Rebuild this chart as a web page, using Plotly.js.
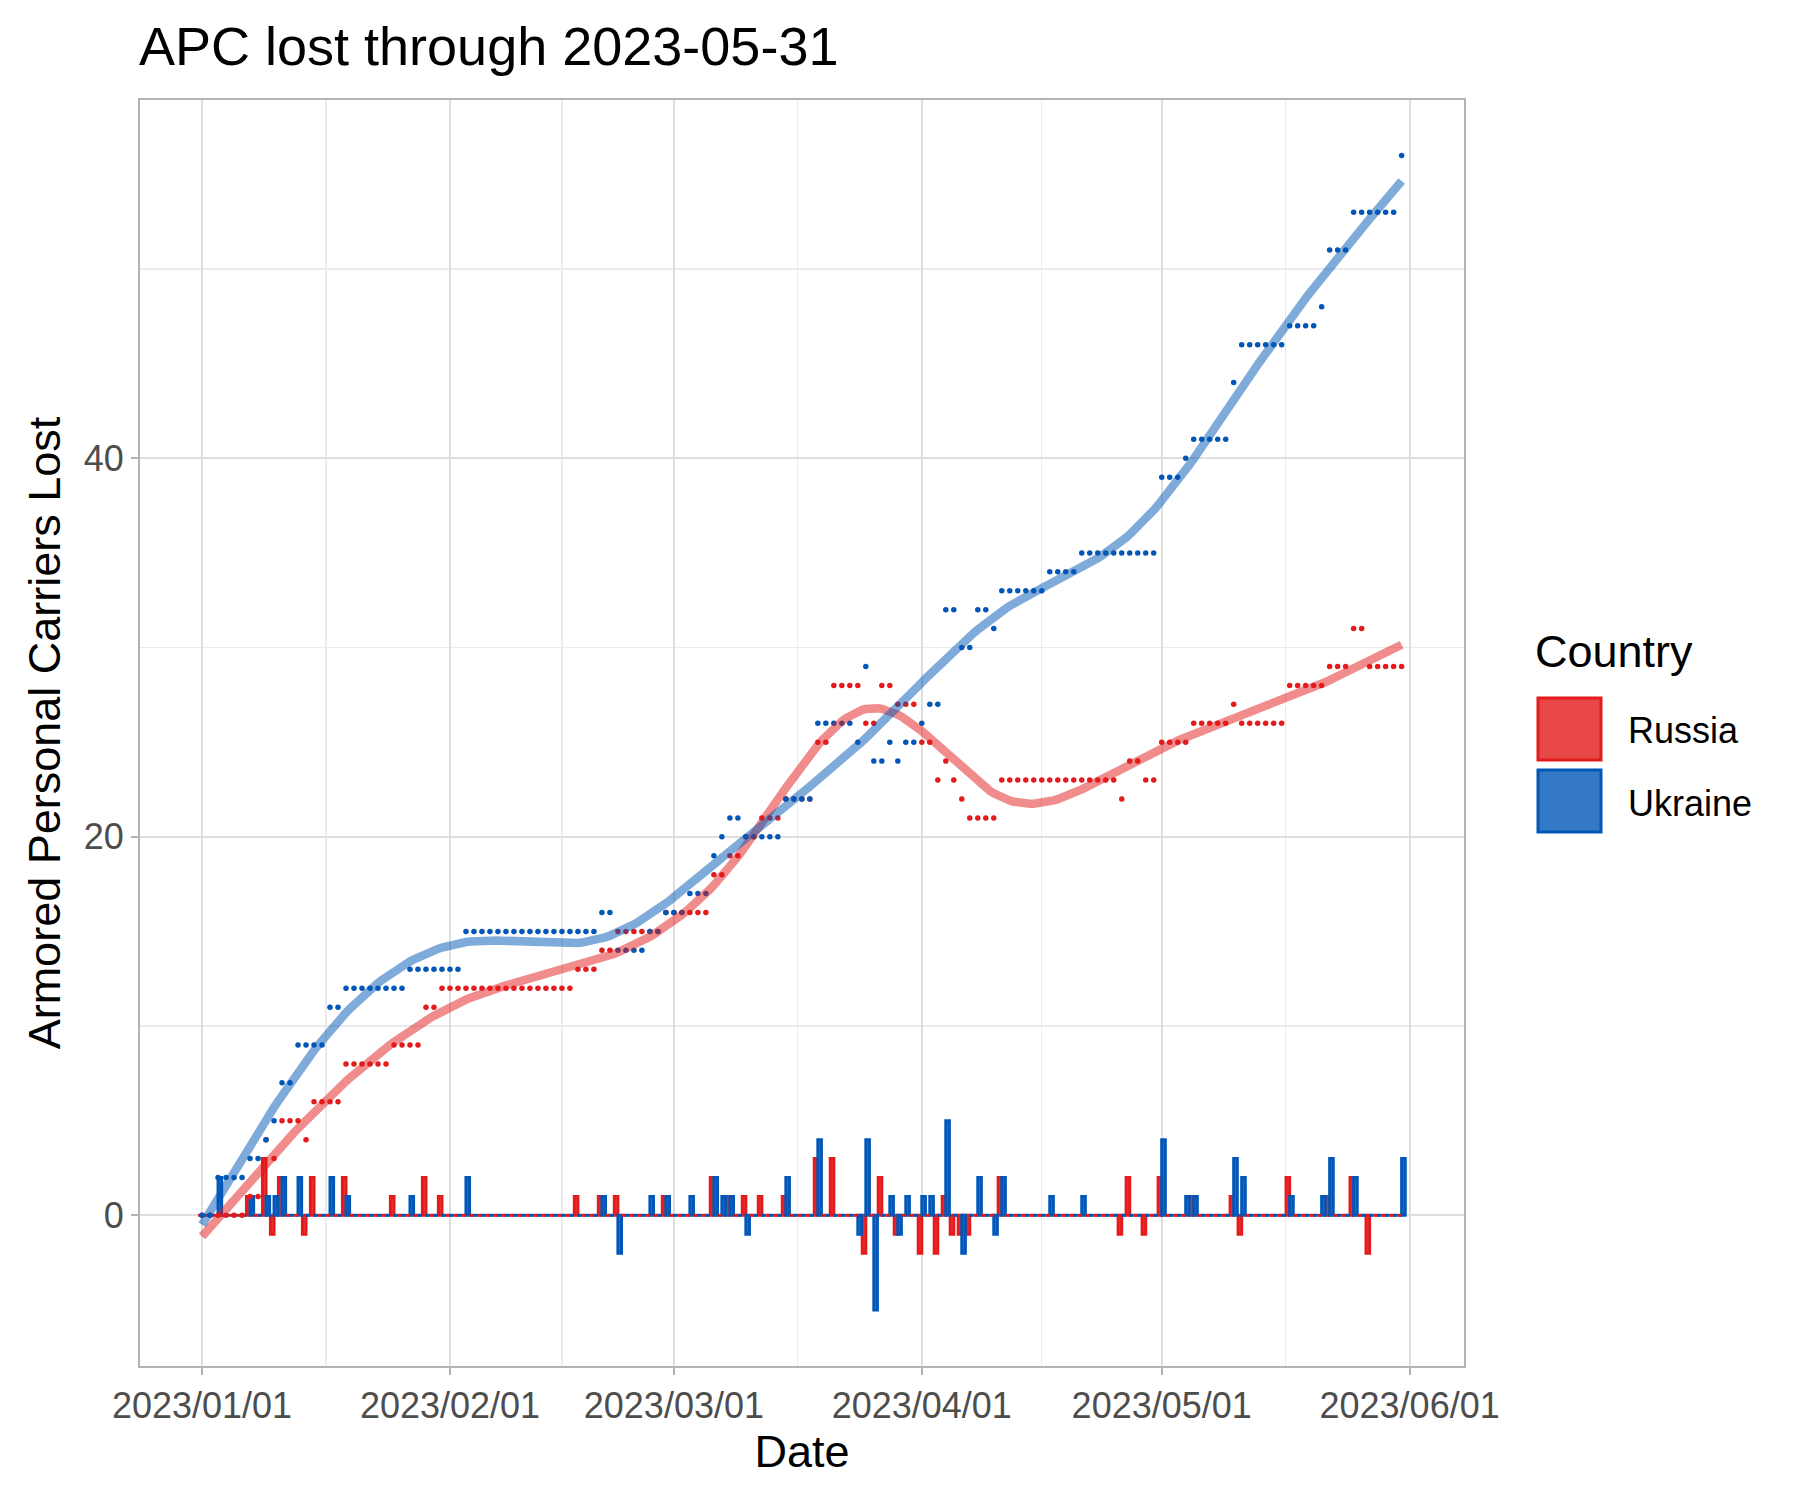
<!DOCTYPE html>
<html>
<head>
<meta charset="utf-8">
<script src="https://cdn.plot.ly/plotly-3.0.1.min.js"></script>
<style>
html,body{margin:0;padding:0;background:#ffffff;}
#chart{width:1800px;height:1500px;}
</style>
</head>
<body>
<div id="chart"></div>
<script>
// ---------------- data ----------------
const startDate = '2023-01-01';
const countries = ['Russia', 'Ukraine'];
// cumulative armored personnel carriers lost, one value per day from 2023-01-01 to 2023-05-31
const russiaCum = [
  0,0,0,0,0,0,1,1,4,3,
  5,5,5,4,6,6,6,6,8,8,
  8,8,8,8,9,9,9,9,11,11,
  12,12,12,12,12,12,12,12,12,12,
  12,12,12,12,12,12,12,13,13,13,
  14,14,15,15,15,15,15,15,16,16,
  16,16,16,16,18,18,19,19,20,20,
  21,21,21,22,22,22,22,25,25,28,
  28,28,28,26,26,28,28,27,27,27,
  25,25,23,24,23,22,21,21,21,21,
  23,23,23,23,23,23,23,23,23,23,
  23,23,23,23,23,22,24,24,23,23,
  25,25,25,25,26,26,26,26,26,27,
  26,26,26,26,26,26,28,28,28,28,
  28,29,29,29,31,31,29,29,29,29,
  29
];
const ukraineCum = [
  0,0,2,2,2,2,3,3,4,5,
  7,7,9,9,9,9,11,11,12,12,
  12,12,12,12,12,12,13,13,13,13,
  13,13,13,15,15,15,15,15,15,15,
  15,15,15,15,15,15,15,15,15,15,
  16,16,14,14,14,14,15,15,16,16,
  16,17,17,17,19,20,21,21,20,20,
  20,20,20,22,22,22,22,26,26,26,
  26,26,25,29,24,24,25,24,25,25,
  26,27,27,32,32,30,30,32,32,31,
  33,33,33,33,33,33,34,34,34,34,
  35,35,35,35,35,35,35,35,35,35,
  39,39,39,40,41,41,41,41,41,44,
  46,46,46,46,46,46,47,47,47,47,
  48,51,51,51,53,53,53,53,53,53,
  56
];
const xTickDates = ['2023-01-01','2023-02-01','2023-03-01','2023-04-01','2023-05-01','2023-06-01'];
const xTickLabels = ['2023/01/01','2023/02/01','2023/03/01','2023/04/01','2023/05/01','2023/06/01'];
const yTickVals = [0, 20, 40];
const yTickLabels = ['0', '20', '40'];
const yMinorVals = [10, 30, 50];
const titleText = 'APC lost through 2023-05-31';
const xTitle = 'Date';
const yTitle = 'Armored Personal Carriers Lost';
const legendTitle = 'Country';

// ---------------- styles ----------------
const FONT = '"Liberation Sans", Arial, Helvetica, sans-serif';
const RED = '#E41A1C', BLUE = '#0057B7';
const RED_FILL = 'rgba(228,26,28,0.8)', BLUE_FILL = 'rgba(0,87,183,0.8)';
const RED_LINE = 'rgba(228,26,28,0.5)', BLUE_LINE = 'rgba(0,87,183,0.5)';

// ---------------- helpers ----------------
const DAY = 86400000;
const T0 = Date.parse(startDate + 'T00:00:00Z');
const ms = d => T0 + d * DAY;
const days = russiaCum.map((_, i) => i);
const xDates = days.map(ms);
const diff = arr => arr.map((v, i) => v - (i === 0 ? 0 : arr[i - 1]));
const russiaDaily = diff(russiaCum);
const ukraineDaily = diff(ukraineCum);

// small linear solver
function solve(A, b) {
  const n = b.length;
  const M = A.map((r, i) => r.slice().concat([b[i]]));
  for (let c = 0; c < n; c++) {
    let piv = c;
    for (let r = c + 1; r < n; r++) if (Math.abs(M[r][c]) > Math.abs(M[piv][c])) piv = r;
    [M[c], M[piv]] = [M[piv], M[c]];
    for (let r = c + 1; r < n; r++) {
      const f = M[r][c] / M[c][c];
      for (let k = c; k <= n; k++) M[r][k] -= f * M[c][k];
    }
  }
  const x = new Array(n).fill(0);
  for (let r = n - 1; r >= 0; r--) {
    let s = M[r][n];
    for (let k = r + 1; k < n; k++) s -= M[r][k] * x[k];
    x[r] = s / M[r][r];
  }
  return x;
}

// penalized cubic regression spline smoother (like geom_smooth(method = "gam"))
function crSmooth(xs, ys, nk, lambda, xout) {
  const lo = Math.min(...xs), hi = Math.max(...xs);
  const k = [];
  for (let i = 0; i < nk; i++) k.push(lo + (hi - lo) * i / (nk - 1));
  const h = [];
  for (let i = 0; i < nk - 1; i++) h.push(k[i + 1] - k[i]);
  // F maps knot values -> second derivatives at knots (natural spline)
  const m = nk - 2;
  const Bm = [];
  for (let i = 0; i < m; i++) {
    const row = new Array(m).fill(0);
    row[i] = 2 * (h[i] + h[i + 1]);
    if (i > 0) row[i - 1] = h[i];
    if (i < m - 1) row[i + 1] = h[i + 1];
    Bm.push(row);
  }
  const F = [];
  for (let j = 0; j < nk; j++) {
    const a = new Array(nk).fill(0); a[j] = 1;
    const rhs = [];
    for (let i = 1; i <= m; i++) rhs.push(6 * ((a[i + 1] - a[i]) / h[i] - (a[i] - a[i - 1]) / h[i - 1]));
    const cin = solve(Bm, rhs);
    F.push([0].concat(cin, [0]));   // F[j] = second derivatives for basis j
  }
  function basisRow(x) {
    let j = 0;
    while (j < nk - 2 && x > k[j + 1]) j++;
    const hj = h[j], A = (k[j + 1] - x), Bx = (x - k[j]);
    const row = [];
    for (let b = 0; b < nk; b++) {
      const aj = b === j ? 1 : 0, aj1 = b === j + 1 ? 1 : 0;
      const cj = F[b][j], cj1 = F[b][j + 1];
      row.push(aj * A / hj + aj1 * Bx / hj +
               cj * (A * A * A / (6 * hj) - hj * A / 6) +
               cj1 * (Bx * Bx * Bx / (6 * hj) - hj * Bx / 6));
    }
    return row;
  }
  const X = xs.map(basisRow);
  // penalty: integral of f''^2
  const P = [];
  for (let i = 0; i < nk; i++) P.push(new Array(nk).fill(0));
  for (let a = 0; a < nk; a++) for (let b = 0; b < nk; b++) {
    let s = 0;
    for (let j = 0; j < nk - 1; j++) {
      const ca = F[a][j], ca1 = F[a][j + 1], cb = F[b][j], cb1 = F[b][j + 1];
      s += h[j] / 6 * (2 * ca * cb + ca * cb1 + ca1 * cb + 2 * ca1 * cb1);
    }
    P[a][b] = s;
  }
  const XtX = [], Xty = new Array(nk).fill(0);
  for (let a = 0; a < nk; a++) {
    XtX.push(new Array(nk).fill(0));
    for (let i = 0; i < xs.length; i++) Xty[a] += X[i][a] * ys[i];
  }
  for (let i = 0; i < xs.length; i++)
    for (let a = 0; a < nk; a++) for (let b = 0; b < nk; b++) XtX[a][b] += X[i][a] * X[i][b];
  for (let a = 0; a < nk; a++) for (let b = 0; b < nk; b++) XtX[a][b] += lambda * P[a][b];
  const beta = solve(XtX, Xty);
  return xout.map(x => basisRow(x).reduce((s, v, i) => s + v * beta[i], 0));
}
const NK = 10, LAMBDA = 0;
const smoothDays = [];
for (let i = 0; i <= 300; i++) smoothDays.push(i * 0.5);
const russiaSmooth = crSmooth(days, russiaCum, NK, LAMBDA, smoothDays);
const ukraineSmooth = crSmooth(days, ukraineCum, NK, LAMBDA, smoothDays);

// bars dodged: each 0.45 day wide, Russia left of the date, Ukraine right
const BW = 0.45 * DAY;
function barTrace(daily, fill, line, offset, name) {
  return {
    type: 'bar', name: name, x: xDates, y: daily,
    width: BW, offset: offset,
    marker: {color: fill, line: {color: line, width: 3}},
    hoverinfo: 'skip', showlegend: false
  };
}
function zeroTrace(daily, color, shiftDays) {
  const xs = [], ys = [];
  daily.forEach((v, i) => { if (v === 0) { xs.push(ms(i + shiftDays)); ys.push(0); } });
  return {
    type: 'scatter', mode: 'markers', x: xs, y: ys,
    marker: {symbol: 'line-ew', size: 3.2, line: {color: color, width: 2.4}},
    hoverinfo: 'skip', showlegend: false
  };
}
function pointTrace(cum, color, name) {
  return {
    type: 'scatter', mode: 'markers', name: name, x: xDates, y: cum,
    marker: {color: color, size: 5.5, line: {width: 0}},
    showlegend: false
  };
}
function smoothTrace(vals, color) {
  return {
    type: 'scatter', mode: 'lines', x: smoothDays.map(ms), y: vals,
    line: {color: color, width: 8.5}, hoverinfo: 'skip', showlegend: false
  };
}

const traces = [
  barTrace(russiaDaily, RED_FILL, RED, -BW, countries[0]),
  barTrace(ukraineDaily, BLUE_FILL, BLUE, 0, countries[1]),
  zeroTrace(russiaDaily, RED, -0.225),
  zeroTrace(ukraineDaily, BLUE, 0.225),
  pointTrace(russiaCum, RED, countries[0]),
  pointTrace(ukraineCum, BLUE, countries[1]),
  smoothTrace(russiaSmooth, RED_LINE),
  smoothTrace(ukraineSmooth, BLUE_LINE)
];

// panel geometry in pixels
const W = 1800, H = 1500;
const PL = 140, PR = 1464, PT = 100, PB = 1366;
const px2x = px => (px - PL) / (PR - PL);
const py2y = py => (PB - py) / (PB - PT);

const legendKeys = [
  {label: countries[0], fill: RED_FILL, line: RED, top: 698, bottom: 760, textY: 731},
  {label: countries[1], fill: BLUE_FILL, line: BLUE, top: 770, bottom: 832, textY: 803}
];
const shapes = legendKeys.map(k => ({
  type: 'rect', xref: 'paper', yref: 'paper',
  x0: px2x(1538), x1: px2x(1601), y0: py2y(k.bottom), y1: py2y(k.top),
  fillcolor: k.fill, line: {color: k.line, width: 3}
}));
const annotations = [
  {text: legendTitle, xref: 'paper', yref: 'paper', x: px2x(1533), y: py2y(652),
   xanchor: 'left', yanchor: 'middle', showarrow: false, font: {family: FONT, size: 45, color: '#000'}}
].concat(legendKeys.map(k => ({
  text: k.label, xref: 'paper', yref: 'paper', x: px2x(1626), y: py2y(k.textY),
  xanchor: 'left', yanchor: 'middle', showarrow: false, font: {family: FONT, size: 36, color: '#000'}
})));

const layout = {
  width: W, height: H,
  margin: {l: PL, r: W - PR, t: PT, b: H - PB, pad: 0},
  paper_bgcolor: '#ffffff', plot_bgcolor: '#ffffff',
  showlegend: false,
  font: {family: FONT, color: '#000'},
  title: {
    text: titleText, font: {family: FONT, size: 54, color: '#000'},
    xref: 'container', x: 139 / W, xanchor: 'left',
    yref: 'container', y: 1 - 46 / H, yanchor: 'middle'
  },
  xaxis: {
    type: 'date',
    range: [ms(-7.76), ms(157.8)],
    tickmode: 'array',
    tickvals: xTickDates.map(d => Date.parse(d + 'T00:00:00Z')),
    ticktext: xTickLabels,
    tickfont: {family: FONT, size: 36, color: '#4D4D4D'},
    ticks: 'outside', ticklen: 7, tickwidth: 2, tickcolor: '#B3B3B3',
    showgrid: true, gridcolor: '#DEDEDE', gridwidth: 2,
    minor: {tickmode: 'array', tickvals: [15.5, 45, 74.5, 105, 135.5].map(ms),
            showgrid: true, gridcolor: '#EBEBEB', gridwidth: 1.2, ticks: ''},
    showline: true, mirror: true, linecolor: '#B3B3B3', linewidth: 2,
    zeroline: false,
    title: {text: xTitle, font: {family: FONT, size: 45, color: '#000'}, standoff: 9}
  },
  yaxis: {
    range: [-7.96, 58.93],
    tickmode: 'array', tickvals: yTickVals, ticktext: yTickLabels,
    tickfont: {family: FONT, size: 36, color: '#4D4D4D'},
    ticks: 'outside', ticklen: 7, tickwidth: 2, tickcolor: '#B3B3B3',
    showgrid: true, gridcolor: '#DEDEDE', gridwidth: 2,
    minor: {tickmode: 'array', tickvals: yMinorVals, showgrid: true,
            gridcolor: '#EBEBEB', gridwidth: 1.2, ticks: ''},
    showline: true, mirror: true, linecolor: '#B3B3B3', linewidth: 2,
    zeroline: false,
    title: {text: yTitle, font: {family: FONT, size: 45, color: '#000'}, standoff: 9}
  },
  shapes: shapes,
  annotations: annotations
};

Plotly.newPlot('chart', traces, layout, {staticPlot: true, displayModeBar: false});
</script>
</body>
</html>
